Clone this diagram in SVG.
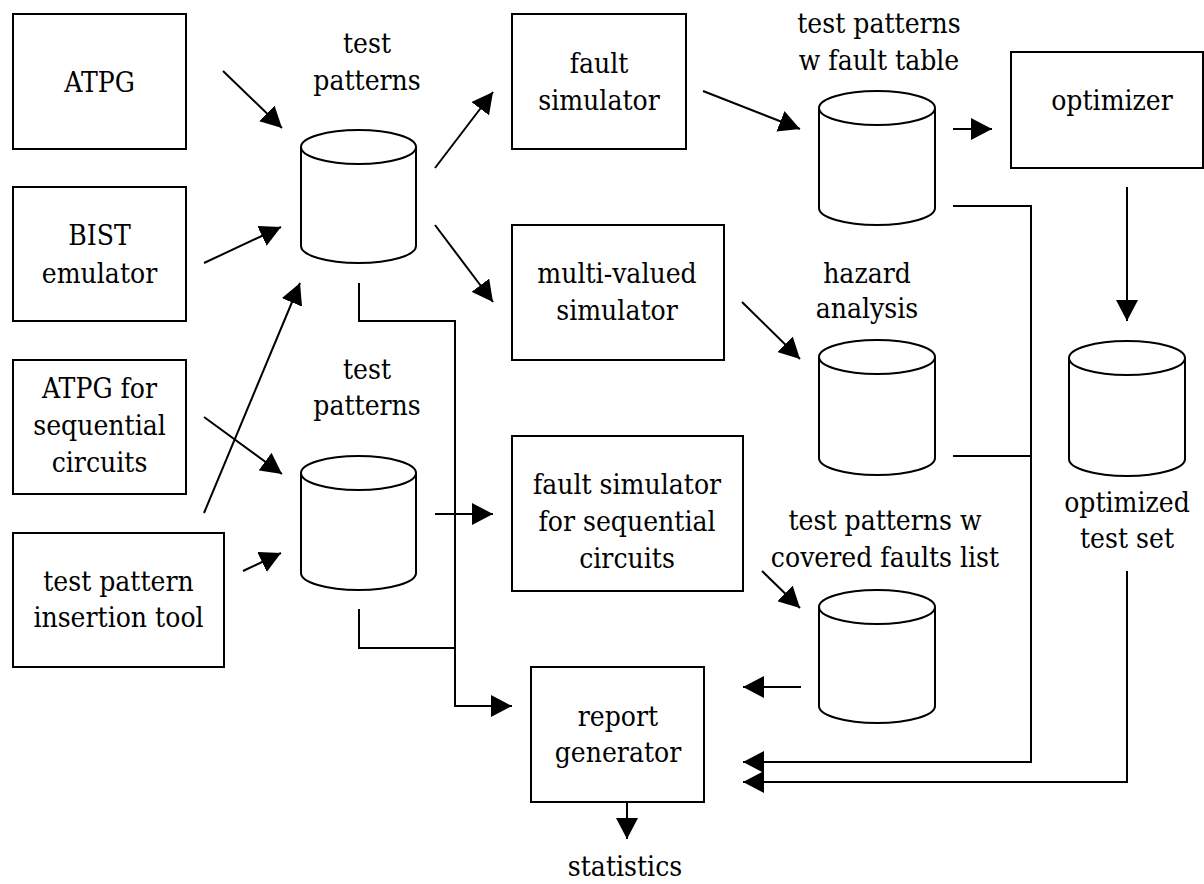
<svg xmlns="http://www.w3.org/2000/svg" width="1204" height="884" viewBox="0 0 1204 884">
<style>
  .box{fill:#fff;stroke:#000;stroke-width:2}
  .cyl{fill:#fff;stroke:#000;stroke-width:2}
  text{font-family:"DejaVu Serif Condensed","DejaVu Serif",serif;font-stretch:condensed;font-size:28px;fill:#000;text-anchor:middle}
  .c{fill:none;stroke:#000;stroke-width:2}
  .a{fill:none;stroke:#000;stroke-width:2;marker-end:url(#ah)}
</style>
<defs>
  <marker id="ah" markerUnits="userSpaceOnUse" markerWidth="22" markerHeight="22" refX="21" refY="11" orient="auto" viewBox="0 0 22 22">
    <path d="M0,0 L21,11 L0,22 z" fill="#000"/>
  </marker>
</defs>
<rect width="1204" height="884" fill="#fff"/>

<g id="atpg"><rect class="box" x="13" y="14" width="173" height="135"/><text x="99.5" y="92">ATPG</text></g>
<g id="bist"><rect class="box" x="13" y="187" width="173" height="134"/><text x="99.5" y="245">BIST</text><text x="99.5" y="283">emulator</text></g>
<g id="atpgseq"><rect class="box" x="13" y="360" width="173" height="134"/><text x="99.5" y="398">ATPG for</text><text x="99.5" y="435">sequential</text><text x="99.5" y="472">circuits</text></g>
<g id="insertion"><rect class="box" x="13" y="533" width="211" height="134"/><text x="118.5" y="591">test pattern</text><text x="118.5" y="627">insertion tool</text></g>

<g id="tp1"><path class="cyl" d="M301,147 L301,246 A57.5,17 0 0 0 416,246 L416,147"/><ellipse class="cyl" cx="358.5" cy="147" rx="57.5" ry="17"/><text x="367" y="53">test</text><text x="367" y="90">patterns</text></g>
<g id="tp2"><path class="cyl" d="M301,473 L301,573 A57.5,17 0 0 0 416,573 L416,473"/><ellipse class="cyl" cx="358.5" cy="473" rx="57.5" ry="17"/><text x="367" y="379">test</text><text x="367" y="415">patterns</text></g>

<g id="faultsim"><rect class="box" x="512" y="14" width="174" height="135"/><text x="599" y="73">fault</text><text x="599" y="110">simulator</text></g>
<g id="multisim"><rect class="box" x="512" y="225" width="212" height="135"/><text x="617" y="283">multi-valued</text><text x="617" y="320">simulator</text></g>
<g id="faultsimseq"><rect class="box" x="512" y="436" width="231" height="155"/><text x="627" y="494">fault simulator</text><text x="627" y="531">for sequential</text><text x="627" y="568">circuits</text></g>
<g id="report"><rect class="box" x="531" y="667" width="173" height="135"/><text x="618" y="726">report</text><text x="618" y="762">generator</text></g>
<g id="statistics"><text x="625" y="876">statistics</text></g>

<g id="faulttable"><path class="cyl" d="M819,108 L819,208 A58,17 0 0 0 935,208 L935,108"/><ellipse class="cyl" cx="877" cy="108" rx="58" ry="17"/><text x="879" y="33">test patterns</text><text x="879" y="70">w fault table</text></g>
<g id="hazard"><path class="cyl" d="M819,357 L819,458 A58,17 0 0 0 935,458 L935,357"/><ellipse class="cyl" cx="877" cy="357" rx="58" ry="17"/><text x="867" y="283">hazard</text><text x="867" y="318">analysis</text></g>
<g id="covered"><path class="cyl" d="M819,607 L819,706 A58,17 0 0 0 935,706 L935,607"/><ellipse class="cyl" cx="877" cy="607" rx="58" ry="17"/><text x="885" y="530">test patterns w</text><text x="885" y="567">covered faults list</text></g>
<g id="optimizer"><rect class="box" x="1011" y="52" width="192" height="116"/><text x="1112" y="110">optimizer</text></g>
<g id="optimized"><path class="cyl" d="M1069,358 L1069,459 A58,17 0 0 0 1185,459 L1185,358"/><ellipse class="cyl" cx="1127" cy="358" rx="58" ry="17"/><text x="1127" y="512">optimized</text><text x="1127" y="548">test set</text></g>

<g id="connectors">
  <line class="a" x1="223" y1="71" x2="282" y2="128"/>
  <line class="a" x1="204" y1="263" x2="281" y2="227"/>
  <line class="a" x1="204" y1="513" x2="300" y2="283"/>
  <line class="a" x1="204" y1="417" x2="282" y2="474"/>
  <line class="a" x1="243" y1="571" x2="281" y2="553"/>
  <line class="a" x1="435" y1="168" x2="493" y2="92"/>
  <line class="a" x1="435" y1="225" x2="493" y2="302"/>
  <line class="a" x1="435" y1="514" x2="493" y2="514"/>
  <line class="a" x1="703" y1="91" x2="800" y2="129"/>
  <line class="a" x1="953" y1="129" x2="992" y2="129"/>
  <line class="a" x1="1127" y1="187" x2="1127" y2="321"/>
  <line class="a" x1="742" y1="302" x2="800" y2="359"/>
  <line class="a" x1="762" y1="571" x2="800" y2="608"/>
  <line class="a" x1="801" y1="687" x2="743" y2="687"/>
  <polyline class="a" points="953,206 1031,206 1031,762 743,762"/>
  <line class="c" x1="953" y1="456" x2="1031" y2="456"/>
  <polyline class="a" points="1127,571 1127,782 743,782"/>
  <polyline class="a" points="359,283 359,321 455,321 455,706 512,706"/>
  <polyline class="c" points="359,609 359,648 455,648"/>
  <line class="a" x1="627" y1="802" x2="627" y2="839"/>
</g>
</svg>
